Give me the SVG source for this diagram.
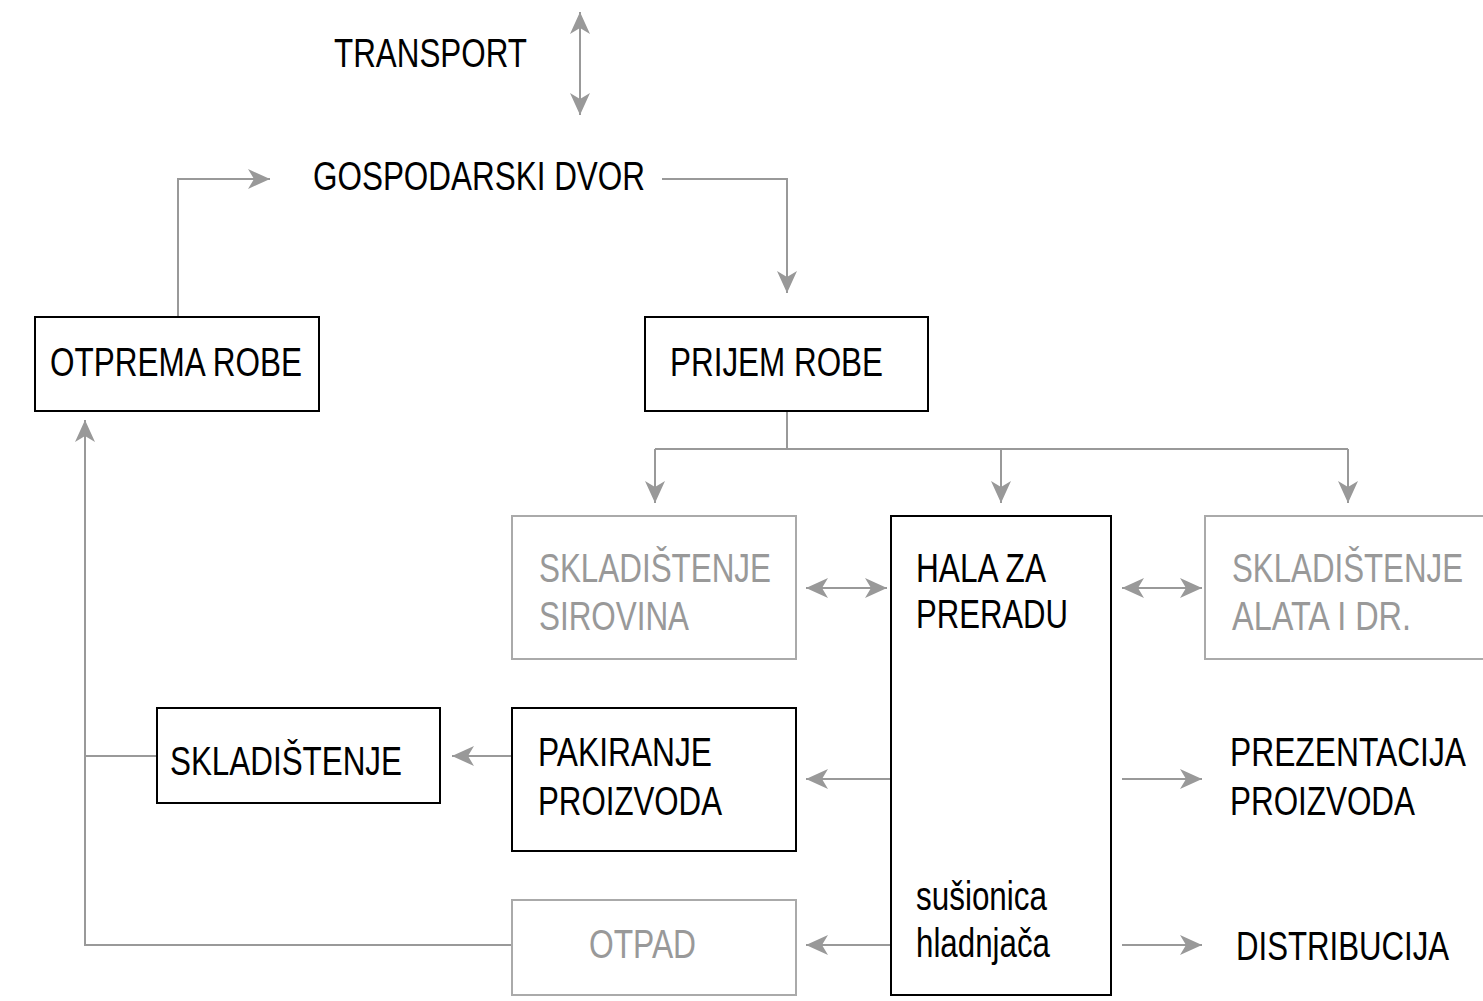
<svg xmlns="http://www.w3.org/2000/svg" width="1483" height="1001" viewBox="0 0 1483 1001">
<style>
text{font-family:"Liberation Sans",Arial,sans-serif;font-size:40px;fill:#000}
.g{fill:#999}
.box{fill:#fff;stroke:#000;stroke-width:2}
.gbox{fill:#fff;stroke:#aaa;stroke-width:2}
.c{fill:none;stroke:#999;stroke-width:2}
.a{marker-end:url(#ah)}
.aa{marker-end:url(#ah);marker-start:url(#ah)}
</style>
<defs>
<marker id="ah" markerUnits="userSpaceOnUse" viewBox="-23 -11 25 22" refX="0" refY="0" markerWidth="25" markerHeight="22" orient="auto-start-reverse">
<path d="M-22,-10 L0,0 L-22,10 L-16,0 z" fill="#999"/>
</marker>
</defs>
<rect width="1483" height="1001" fill="#fff"/>
<g id="connectors">
<path class="c aa" d="M580,12 L580,115"/>
<path class="c a" d="M178,317 L178,179 L270,179"/>
<path class="c a" d="M662,179 L787,179 L787,293"/>
<path class="c" d="M787,411 L787,449 M655,449 L1348,449"/>
<path class="c a" d="M655,449 L655,503"/>
<path class="c a" d="M1001,449 L1001,503"/>
<path class="c a" d="M1348,449 L1348,503"/>
<path class="c aa" d="M806,588 L887,588"/>
<path class="c aa" d="M1122,588 L1202,588"/>
<path class="c a" d="M512,756 L452,756"/>
<path class="c" d="M157,756 L85,756"/>
<path class="c a" d="M512,945 L85,945 L85,420"/>
<path class="c a" d="M891,779 L806,779"/>
<path class="c a" d="M891,945 L806,945"/>
<path class="c a" d="M1122,779 L1202,779"/>
<path class="c a" d="M1122,945 L1202,945"/>
</g>
<g id="transport"><text x="334" y="67" textLength="193" lengthAdjust="spacingAndGlyphs">TRANSPORT</text></g>
<g id="gospodarski-dvor"><text x="313" y="190" textLength="332" lengthAdjust="spacingAndGlyphs">GOSPODARSKI DVOR</text></g>
<g id="otprema-robe"><rect class="box" x="35" y="317" width="284" height="94"/><text x="50" y="376" textLength="252" lengthAdjust="spacingAndGlyphs">OTPREMA ROBE</text></g>
<g id="prijem-robe"><rect class="box" x="645" y="317" width="283" height="94"/><text x="670" y="376" textLength="213" lengthAdjust="spacingAndGlyphs">PRIJEM ROBE</text></g>
<g id="skladistenje-sirovina"><rect class="gbox" x="512" y="516" width="284" height="143"/><text class="g" x="539" y="582" textLength="232" lengthAdjust="spacingAndGlyphs">SKLADIŠTENJE</text><text class="g" x="539" y="630" textLength="150" lengthAdjust="spacingAndGlyphs">SIROVINA</text></g>
<g id="hala-za-preradu"><rect class="box" x="891" y="516" width="220" height="479"/><text x="916" y="582" textLength="130" lengthAdjust="spacingAndGlyphs">HALA ZA</text><text x="916" y="628" textLength="152" lengthAdjust="spacingAndGlyphs">PRERADU</text><text x="916" y="910" textLength="131" lengthAdjust="spacingAndGlyphs">sušionica</text><text x="916" y="957" textLength="134" lengthAdjust="spacingAndGlyphs">hladnjača</text></g>
<g id="skladistenje-alata"><rect class="gbox" x="1205" y="516" width="290" height="143"/><text class="g" x="1232" y="582" textLength="231" lengthAdjust="spacingAndGlyphs">SKLADIŠTENJE</text><text class="g" x="1232" y="630" textLength="179" lengthAdjust="spacingAndGlyphs">ALATA I DR.</text></g>
<g id="skladistenje"><rect class="box" x="157" y="708" width="283" height="95"/><text x="170" y="775" textLength="232" lengthAdjust="spacingAndGlyphs">SKLADIŠTENJE</text></g>
<g id="pakiranje"><rect class="box" x="512" y="708" width="284" height="143"/><text x="538" y="766" textLength="174" lengthAdjust="spacingAndGlyphs">PAKIRANJE</text><text x="538" y="815" textLength="184" lengthAdjust="spacingAndGlyphs">PROIZVODA</text></g>
<g id="otpad"><rect class="gbox" x="512" y="900" width="284" height="95"/><text class="g" x="589" y="958" textLength="107" lengthAdjust="spacingAndGlyphs">OTPAD</text></g>
<g id="prezentacija"><text x="1230" y="766" textLength="236" lengthAdjust="spacingAndGlyphs">PREZENTACIJA</text><text x="1230" y="815" textLength="185" lengthAdjust="spacingAndGlyphs">PROIZVODA</text></g>
<g id="distribucija"><text x="1236" y="960" textLength="213" lengthAdjust="spacingAndGlyphs">DISTRIBUCIJA</text></g>
</svg>
